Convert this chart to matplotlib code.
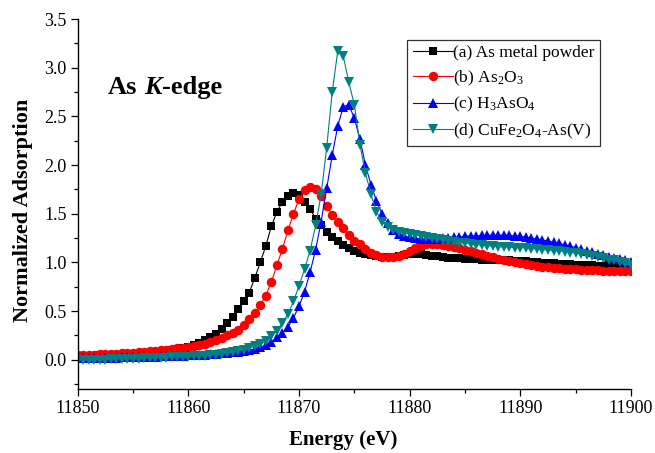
import numpy as np
import matplotlib
matplotlib.use("Agg")
import matplotlib.pyplot as plt
from matplotlib.ticker import MultipleLocator

plt.rcParams['font.family'] = ['Liberation Serif', 'DejaVu Serif']
plt.rcParams['mathtext.fontset'] = 'custom'
plt.rcParams['mathtext.rm'] = 'Liberation Serif'
plt.rcParams['mathtext.it'] = 'Liberation Serif:italic'
plt.rcParams['mathtext.bf'] = 'Liberation Serif:bold'

# Energy grid (eV), 0.5 eV step
energy = np.arange(11850.0, 11900.01, 0.5)

as_metal = [
    0.04, 0.04, 0.04, 0.04, 0.05, 0.05, 0.05, 0.05, 0.05, 0.06,
    0.06, 0.06, 0.07, 0.07, 0.08, 0.08, 0.09, 0.10, 0.11, 0.12,
    0.13, 0.15, 0.17, 0.20, 0.23, 0.27, 0.32, 0.38, 0.44, 0.52,
    0.60, 0.69, 0.84, 1.00, 1.17, 1.37, 1.52, 1.62, 1.68, 1.71,
    1.69, 1.62, 1.55, 1.45, 1.38, 1.31, 1.26, 1.22, 1.18, 1.15,
    1.12, 1.10, 1.09, 1.08, 1.07, 1.06, 1.06, 1.06, 1.07, 1.08,
    1.09, 1.09, 1.09, 1.08, 1.07, 1.07, 1.06, 1.05, 1.05, 1.05,
    1.04, 1.04, 1.04, 1.03, 1.03, 1.03, 1.02, 1.02, 1.02, 1.01,
    1.01, 1.01, 1.00, 1.00, 0.99, 0.99, 0.99, 0.98, 0.98, 0.98,
    0.97, 0.97, 0.97, 0.97, 0.96, 0.96, 0.96, 0.96, 0.95, 0.95,
    0.95,
]

as2o3 = [
    0.05, 0.05, 0.05, 0.05, 0.06, 0.06, 0.06, 0.06, 0.07, 0.07,
    0.07, 0.08, 0.08, 0.09, 0.09, 0.10, 0.10, 0.11, 0.12, 0.12,
    0.13, 0.14, 0.15, 0.16, 0.18, 0.20, 0.22, 0.25, 0.28, 0.31,
    0.36, 0.42, 0.48, 0.56, 0.66, 0.80, 0.97, 1.14, 1.33, 1.50,
    1.65, 1.74, 1.77, 1.75, 1.68, 1.58, 1.49, 1.42, 1.35, 1.28,
    1.22, 1.19, 1.14, 1.10, 1.08, 1.06, 1.06, 1.06, 1.07, 1.09,
    1.12, 1.15, 1.17, 1.19, 1.19, 1.19, 1.18, 1.17, 1.16, 1.15,
    1.13, 1.12, 1.10, 1.09, 1.07, 1.06, 1.04, 1.03, 1.01, 1.00,
    0.99, 0.98, 0.97, 0.96, 0.95, 0.95, 0.94, 0.94, 0.93, 0.93,
    0.93, 0.92, 0.92, 0.92, 0.92, 0.91, 0.91, 0.91, 0.91, 0.91,
    0.91,
]

h3aso4 = [
    0.02, 0.02, 0.02, 0.02, 0.02, 0.02, 0.02, 0.02, 0.03, 0.03,
    0.03, 0.03, 0.03, 0.03, 0.03, 0.04, 0.04, 0.04, 0.04, 0.04,
    0.05, 0.05, 0.05, 0.05, 0.06, 0.06, 0.07, 0.07, 0.08, 0.08,
    0.09, 0.10, 0.11, 0.13, 0.15, 0.18, 0.23, 0.28, 0.34, 0.43,
    0.55, 0.70, 0.90, 1.13, 1.42, 1.76, 2.10, 2.40, 2.60, 2.62,
    2.48, 2.27, 2.00, 1.80, 1.63, 1.50, 1.40, 1.33, 1.29, 1.27,
    1.26, 1.25, 1.24, 1.24, 1.24, 1.24, 1.25, 1.25, 1.26, 1.26,
    1.27, 1.27, 1.27, 1.28, 1.28, 1.28, 1.28, 1.28, 1.28, 1.27,
    1.27, 1.26, 1.25, 1.24, 1.23, 1.22, 1.21, 1.20, 1.18, 1.17,
    1.15, 1.14, 1.12, 1.11, 1.09, 1.08, 1.06, 1.05, 1.04, 1.02,
    1.00,
]

cufe2o4_as = [
    0.00, 0.00, 0.00, 0.00, 0.00, 0.00, 0.01, 0.01, 0.01, 0.01,
    0.01, 0.01, 0.02, 0.02, 0.02, 0.02, 0.02, 0.03, 0.03, 0.03,
    0.03, 0.04, 0.04, 0.04, 0.05, 0.05, 0.06, 0.07, 0.08, 0.09,
    0.10, 0.12, 0.14, 0.16, 0.19, 0.24, 0.30, 0.38, 0.47, 0.60,
    0.76, 0.93, 1.12, 1.38, 1.70, 2.18, 2.75, 3.17, 3.12, 2.85,
    2.62, 2.21, 1.92, 1.70, 1.52, 1.42, 1.36, 1.33, 1.31, 1.30,
    1.29, 1.28, 1.27, 1.26, 1.25, 1.24, 1.23, 1.22, 1.21, 1.20,
    1.20, 1.19, 1.18, 1.18, 1.17, 1.17, 1.16, 1.16, 1.16, 1.15,
    1.15, 1.15, 1.14, 1.14, 1.13, 1.13, 1.12, 1.12, 1.11, 1.10,
    1.10, 1.09, 1.08, 1.07, 1.06, 1.05, 1.03, 1.02, 1.00, 0.99,
    0.97,
]

labels = [
    "(a) As metal powder",
    "(b) As$_2$O$_3$",
    "(c) H$_3$AsO$_4$",
    "(d) CuFe$_2$O$_4$-As(V)",
]
colors = ["#000000", "#ff0000", "#0000ff", "#008080"]
markers = ["s", "o", "^", "v"]
msizes = [5.8, 6.8, 7.2, 7.2]
series = [as_metal, as2o3, h3aso4, cufe2o4_as]

fig = plt.figure(figsize=(6.55, 4.53), dpi=100)
ax = fig.add_axes([77.7 / 655, 1 - 389 / 453, (631 - 77.7) / 655, (389 - 19) / 453])

for y, c, m, ms, lab in zip(series, colors, markers, msizes, labels):
    ax.plot(energy, y, color=c, marker=m, markersize=ms, markeredgewidth=0,
            linewidth=0.8, label=lab)

ax.set_xlim(11850, 11900)
ax.set_ylim(-0.3, 3.5)
ax.xaxis.set_major_locator(MultipleLocator(10))
ax.xaxis.set_minor_locator(MultipleLocator(5))
ax.yaxis.set_major_locator(MultipleLocator(0.5))
ax.yaxis.set_minor_locator(MultipleLocator(0.25))
ax.yaxis.set_major_formatter(matplotlib.ticker.FormatStrFormatter('%.1f'))

for s in ['top', 'right']:
    ax.spines[s].set_visible(False)
for s in ['left', 'bottom']:
    ax.spines[s].set_linewidth(1.0)

ax.tick_params(which='major', direction='out', length=5, width=0.9, labelsize=13, pad=3)
ax.tick_params(which='minor', direction='out', length=3, width=0.9)

ax.set_xlabel("Energy (eV)", fontsize=15, fontweight='bold')
ax.set_ylabel("Normalized Adsorption", fontsize=16, fontweight='bold')
ax.xaxis.set_label_coords(0.4795, -0.112)
ax.yaxis.set_label_coords(-0.08, 0.482)

leg = ax.legend(loc='upper right', bbox_to_anchor=(0.944, 0.943), borderaxespad=0,
                fontsize=12.5, frameon=True, fancybox=False, edgecolor='black',
                handlelength=2.3, handletextpad=0.05, labelspacing=0.42,
                borderpad=0.3, numpoints=1)
leg.get_frame().set_linewidth(0.9)

# "As K-edge" label with italic K
x0, y0 = 0.0548, 0.797
fs = 19
t1 = ax.text(x0, y0, "As", transform=ax.transAxes, fontsize=fs,
             fontweight='bold', va='baseline', ha='left')
fig.canvas.draw()
r = fig.canvas.get_renderer()
bb = t1.get_window_extent(renderer=r)
gap = fs * 100 / 72 * 0.25
x1 = ax.transAxes.inverted().transform((bb.x1 + gap, 0))[0]
t2 = ax.text(x1, y0, "K", transform=ax.transAxes, fontsize=fs,
             fontweight='bold', fontstyle='italic', va='baseline', ha='left')
fig.canvas.draw()
bb2 = t2.get_window_extent(renderer=r)
x2 = ax.transAxes.inverted().transform((bb2.x1, 0))[0]
ax.text(x2, y0, "-edge", transform=ax.transAxes, fontsize=fs,
        fontweight='bold', va='baseline', ha='left')

fig.savefig("out.png", dpi=100)
